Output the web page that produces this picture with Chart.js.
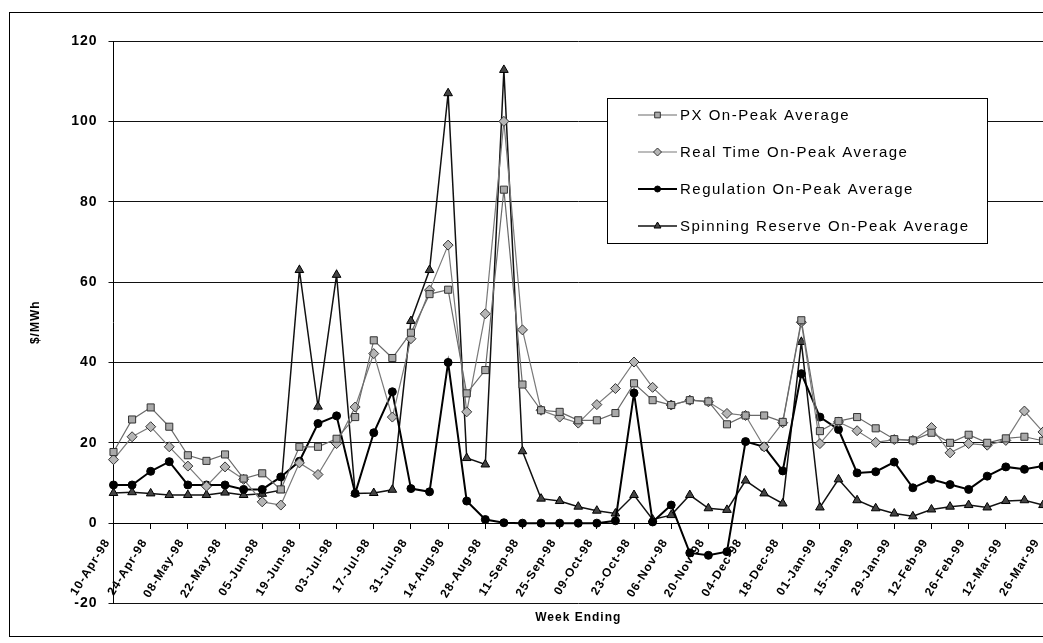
<!DOCTYPE html>
<html>
<head>
<meta charset="utf-8">
<script src="https://cdn.jsdelivr.net/npm/chart.js@4"></script>
<style>
  html, body { margin: 0; padding: 0; background: #fff; }
  #wrap { position: relative; width: 1043px; height: 643px; overflow: hidden; }
</style>
</head>
<body>
<div id="wrap"><canvas id="c" width="1043" height="643"></canvas></div>
<script>
const weekLabels = ['10-Apr-98','17-Apr-98','24-Apr-98','01-May-98','08-May-98','15-May-98','22-May-98','29-May-98','05-Jun-98','12-Jun-98','19-Jun-98','26-Jun-98','03-Jul-98','10-Jul-98','17-Jul-98','24-Jul-98','31-Jul-98','07-Aug-98','14-Aug-98','21-Aug-98','28-Aug-98','04-Sep-98','11-Sep-98','18-Sep-98','25-Sep-98','02-Oct-98','09-Oct-98','16-Oct-98','23-Oct-98','30-Oct-98','06-Nov-98','13-Nov-98','20-Nov-98','27-Nov-98','04-Dec-98','11-Dec-98','18-Dec-98','25-Dec-98','01-Jan-99','08-Jan-99','15-Jan-99','22-Jan-99','29-Jan-99','05-Feb-99','12-Feb-99','19-Feb-99','26-Feb-99','05-Mar-99','12-Mar-99','19-Mar-99','26-Mar-99'];

const pxOnPeak = [17.7,25.8,28.8,24.0,16.9,15.5,17.1,11.1,12.4,8.4,19.0,19.0,21.0,26.4,45.5,41.1,47.4,57.0,58.1,32.3,38.1,83.0,34.5,28.1,27.7,25.6,25.6,27.4,34.8,30.6,29.4,30.6,30.3,24.6,26.8,26.8,25.2,50.5,22.9,25.4,26.4,23.6,20.9,20.6,22.5,20.0,22.0,20.0,21.1,21.5,20.5];

const realTimeOnPeak = [15.8,21.5,24.0,19.0,14.2,9.2,14.0,10.9,5.3,4.5,15.0,12.1,19.8,28.9,42.2,26.4,45.9,58.0,69.2,27.7,52.1,100.0,48.1,28.1,26.4,24.9,29.5,33.5,40.1,33.8,29.4,30.6,30.2,27.3,26.8,19.0,25.0,50.0,19.8,25.2,23.0,20.1,20.8,20.6,23.8,17.5,19.8,19.4,20.6,27.9,22.7];

const regulationOnPeak = [9.5,9.5,12.9,15.3,9.5,9.5,9.5,8.4,8.4,11.5,15.4,24.8,26.7,7.4,22.5,32.7,8.6,7.8,40.0,5.5,0.9,0.1,0,0,0,0,0,0.6,32.4,0.3,4.5,-7.4,-8.0,-7.1,20.3,19.0,13.0,37.2,26.4,23.3,12.5,12.8,15.2,8.8,10.9,9.6,8.4,11.7,14.0,13.4,14.2];

const spinningOnPeak = [7.5,7.7,7.4,7.0,7.0,7.0,7.6,7.0,7.3,8.2,63.0,29.0,61.8,7.4,7.5,8.3,50.3,63.0,107.0,16.2,14.6,112.8,17.9,6.1,5.5,4.1,3.1,2.4,7.0,0.9,2.0,7.0,3.7,3.3,10.6,7.4,4.9,45.1,3.9,10.9,5.7,3.7,2.4,1.7,3.4,4.1,4.5,3.9,5.5,5.7,4.5];

const seriesNames = ['PX On-Peak Average','Real Time On-Peak Average','Regulation On-Peak Average','Spinning Reserve On-Peak Average'];

const yMin = -20, yMax = 120, yStep = 20;
const yTitle = '$/MWh';
const xTitle = 'Week Ending';

const FONT = "'Liberation Sans', Arial, Helvetica, sans-serif";
Chart.defaults.font.family = FONT;
Chart.defaults.color = '#000';

const framePlugin = {
  id: 'frame',
  beforeDraw(chart) {
    const ctx = chart.ctx;
    ctx.letterSpacing = '1px';
    ctx.save();
    ctx.strokeStyle = '#000';
    ctx.lineWidth = 1;
    ctx.strokeRect(9.5, 12.5, 1200, 624);
    ctx.restore();
  }
};

const boxLegend = {
  id: 'boxLegend',
  afterDraw(chart) {
    const ctx = chart.ctx;
    ctx.save();
    ctx.fillStyle = '#fff';
    ctx.fillRect(607, 98, 380, 145);
    ctx.strokeStyle = '#000';
    ctx.lineWidth = 1;
    ctx.strokeRect(607.5, 98.5, 380, 145);
    chart.data.datasets.forEach((ds, i) => {
      const y = 115 + i * 37;
      ctx.beginPath();
      ctx.strokeStyle = ds.borderColor;
      ctx.lineWidth = ds.borderWidth;
      ctx.moveTo(638, y);
      ctx.lineTo(677, y);
      ctx.stroke();
      ctx.fillStyle = ds.pointBackgroundColor;
      ctx.strokeStyle = ds.pointBorderColor;
      ctx.lineWidth = 1;
      if (Chart.helpers && Chart.helpers.drawPoint) {
        Chart.helpers.drawPoint(ctx, {pointStyle: ds.pointStyle, radius: Math.max(3, ds.pointRadius - 1), borderWidth: 1, rotation: 0}, 657.5, y);
      }
      ctx.fillStyle = '#000';
      ctx.font = '15px ' + FONT;
      ctx.letterSpacing = '1.5px';
      ctx.textBaseline = 'middle';
      ctx.textAlign = 'left';
      ctx.fillText(ds.label, 680, y + 1);
    });
    ctx.restore();
  }
};

new Chart(document.getElementById('c'), {
  type: 'line',
  data: {
    labels: weekLabels,
    datasets: [
      { label: seriesNames[0], data: pxOnPeak, borderColor: '#6a6a6a', borderWidth: 1.2,
        pointStyle: 'rect', pointRadius: 5, pointBackgroundColor: '#a9a9a9', pointBorderColor: '#333', pointBorderWidth: 1 },
      { label: seriesNames[1], data: realTimeOnPeak, borderColor: '#7a7a7a', borderWidth: 1.2,
        pointStyle: 'rectRot', pointRadius: 5, pointBackgroundColor: '#b5b5b5', pointBorderColor: '#333', pointBorderWidth: 1 },
      { label: seriesNames[2], data: regulationOnPeak, borderColor: '#000', borderWidth: 2,
        pointStyle: 'circle', pointRadius: 4, pointBackgroundColor: '#000', pointBorderColor: '#000', pointBorderWidth: 1 },
      { label: seriesNames[3], data: spinningOnPeak, borderColor: '#111', borderWidth: 1.5,
        pointStyle: 'triangle', pointRadius: 5, pointBackgroundColor: '#444', pointBorderColor: '#000', pointBorderWidth: 1 }
    ]
  },
  options: {
    responsive: false,
    animation: false,
    devicePixelRatio: 1,
    layout: { autoPadding: false, padding: { left: 0, top: 41, right: 0, bottom: 0 } },
    plugins: { legend: { display: false }, tooltip: { enabled: false } },
    elements: { line: { tension: 0 } },
    scales: {
      y: {
        position: 'left',
        min: yMin, max: yMax,
        ticks: { stepSize: yStep, padding: 11, font: { size: 14, weight: 'bold' }, color: '#000' },
        grid: { color: '#111', lineWidth: 1, tickLength: 5 },
        border: { color: '#000', width: 1 },
        title: { display: true, text: yTitle, font: { size: 12, weight: 'bold' }, padding: { top: 28, bottom: 0 } },
        afterFit: s => { s.width = 113.5; }
      },
      x: {
        type: 'category',
        position: { y: 0 },
        offset: false,
        ticks: {
          autoSkip: false, minRotation: 58, maxRotation: 58, padding: 8, labelOffset: -6,
          font: { size: 12, weight: 'bold' }, color: '#000',
          callback: (v, i) => (i % 2 === 0 ? weekLabels[i] : '')
        },
        grid: {
          drawOnChartArea: false, drawTicks: true, tickLength: 5, lineWidth: 1,
          color: c => (c.index % 2 === 0 ? '#000' : 'rgba(0,0,0,0)')
        },
        border: { display: true, color: '#000', width: 1 },
        afterFit: s => { s.height = 0; s.paddingLeft = 0; s.paddingRight = 0; }
      },
      x2: {
        type: 'category',
        position: 'bottom',
        offset: false,
        ticks: { display: false },
        grid: { display: false, drawTicks: false },
        border: { display: false },
        title: { display: true, text: xTitle, font: { size: 12, weight: 'bold' }, padding: { top: 0, bottom: 17.8 } },
        afterFit: s => { s.height = 39.5; s.paddingLeft = 0; s.paddingRight = 0; }
      }
    }
  },
  plugins: [framePlugin, boxLegend]
});
</script>
</body>
</html>
